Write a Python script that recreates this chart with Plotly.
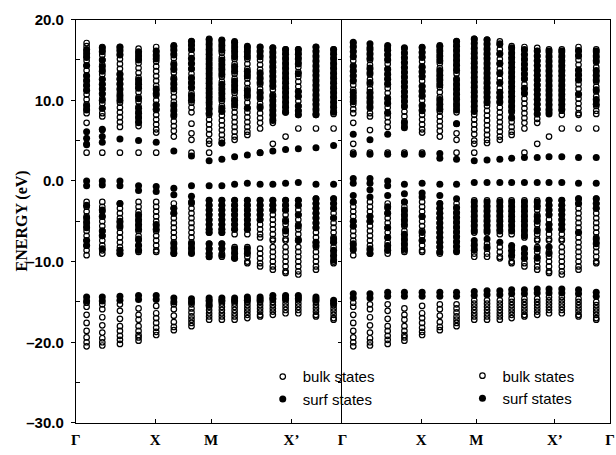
import plotly.graph_objects as go

# k-point columns (local path coordinate, same units as the tick positions)
K_LEFT = [11, 27, 45, 64, 82, 100, 118, 136, 149, 162, 175, 188, 201, 214, 227, 245, 263]
K_RIGHT = [11, 28, 46, 63, 81, 99, 116, 134, 147, 160, 172, 185, 198, 210, 223, 240, 258]

TICK_POS_LEFT = [0, 81, 138, 220]
TICK_TEXT_LEFT = ["Γ", "X", "M", "X’"]
TICK_POS_RIGHT = [0, 80, 136, 216, 272]
TICK_TEXT_RIGHT = ["Γ", "X", "M", "X’", "Γ"]

Y_TICKS = [-30, -20, -10, 0, 10, 20]
Y_TICK_TEXT = ["–30.0", "–20.0", "–10.0", "0.0", "10.0", "20.0"]
Y_MINOR = [-25, -15, -5, 5, 15]

# projected bulk states (eV), one list per k column (shared by both panels)
BULK = [
    [17.1, 16.7, 16.1, 15.5, 14.9, 14.3, 13.7, 13.1, 12.5, 11.9, 11.3, 10.7, 10.1, 9.5, 8.9, 8.4, 7.2, 4.6, 3.5,
     -2.6, -3.2, -3.8, -4.4, -5.0, -5.6, -6.2, -6.8, -7.4, -8.0, -8.6, -9.2,
     -15.1, -15.6, -16.6, -17.6, -18.6, -19.4, -20.0, -20.5],
    [16.6, 16.2, 15.6, 15.0, 14.4, 13.8, 13.2, 12.6, 12.0, 11.4, 10.8, 10.2, 9.6, 9.0, 8.4, 8.0, 6.3, 3.5,
     -2.6, -3.2, -3.8, -4.4, -5.0, -5.6, -6.2, -6.8, -7.4, -8.0, -8.6, -9.0,
     -15.3, -15.9, -16.9, -17.9, -18.8, -19.5, -20.0, -20.4],
    [16.6, 16.3, 15.7, 15.1, 14.5, 13.9, 13.3, 12.7, 12.1, 11.5, 10.9, 10.3, 9.7, 9.1, 8.5, 7.9, 7.3, 6.7, 3.5,
     -2.8, -3.4, -4.0, -4.6, -5.2, -5.8, -6.4, -7.0, -7.6, -8.2, -8.6, -9.0,
     -15.3, -16.1, -17.1, -18.0, -18.6, -19.2, -19.7, -20.2],
    [16.4, 15.8, 15.2, 14.6, 14.0, 13.4, 12.8, 12.2, 11.6, 11.0, 10.4, 9.8, 9.2, 8.6, 8.0, 7.4, 6.8, 3.5,
     -2.6, -3.2, -3.8, -4.4, -5.0, -5.6, -6.2, -6.8, -7.4, -8.0, -8.6, -8.8,
     -15.8, -16.6, -17.2, -18.0, -18.6, -19.1, -19.4, -19.8],
    [16.6, 16.0, 15.4, 14.8, 14.2, 13.6, 13.0, 12.4, 11.8, 11.2, 10.6, 10.0, 9.4, 8.8, 8.2, 7.6, 7.0, 6.4, 6.0, 3.5,
     -2.6, -3.2, -3.8, -4.4, -5.0, -5.6, -6.2, -6.8, -7.4, -8.0, -8.6, -8.8,
     -15.5, -16.4, -17.0, -17.6, -18.2, -18.7, -19.1],
    [16.8, 16.4, 15.8, 15.2, 14.6, 14.0, 13.4, 12.8, 12.2, 11.6, 11.0, 10.4, 9.8, 9.2, 8.6, 8.0, 7.4, 6.8, 6.2, 5.5,
     -2.8, -3.4, -4.0, -4.6, -5.2, -5.8, -6.4, -7.0, -7.6, -8.2, -8.8, -9.0,
     -15.3, -15.9, -16.7, -17.5, -18.1, -18.5],
    [17.3, 16.9, 16.3, 15.7, 15.1, 14.5, 13.9, 13.3, 12.7, 12.1, 11.5, 10.9, 10.3, 9.7, 9.1, 8.5, 7.1, 5.9, 5.1, 3.5,
     -2.8, -3.4, -4.0, -4.6, -5.2, -5.8, -6.4, -7.0, -7.6, -8.2, -8.8,
     -15.3, -15.8, -16.3, -16.8, -17.2, -17.6, -18.0],
    [17.6, 17.2, 16.6, 16.0, 15.4, 14.8, 14.2, 13.6, 13.0, 12.4, 11.8, 11.2, 10.6, 10.0, 9.4, 8.8, 8.2, 7.6, 7.0,
     6.4, 5.8, 5.0, 4.6, 3.5,
     -2.4, -3.0, -3.6, -4.2, -4.8, -5.4, -6.0, -6.4, -7.8, -8.4, -9.0, -9.4,
     -14.8, -15.2, -15.6, -16.0, -16.4, -16.8, -17.2],
    [17.5, 17.1, 16.5, 15.9, 15.3, 14.7, 14.1, 13.5, 12.9, 12.3, 11.7, 11.1, 10.5, 9.9, 9.3, 8.7, 8.1, 7.5, 6.9,
     6.3, 5.7, 5.1, 4.7,
     -2.4, -3.0, -3.6, -4.2, -4.8, -5.4, -6.0, -6.4, -7.8, -8.4, -9.0, -9.4,
     -14.8, -15.2, -15.6, -16.0, -16.4, -16.8, -17.2],
    [17.3, 16.9, 16.3, 15.7, 15.1, 14.5, 13.9, 13.3, 12.7, 12.1, 11.5, 10.9, 10.3, 9.7, 9.1, 8.5, 7.9, 7.3, 6.7,
     6.1, 5.5, 5.1,
     -2.4, -3.0, -3.6, -4.2, -4.8, -5.4, -6.0, -6.6, -8.2, -8.8, -9.4, -9.6,
     -14.8, -15.2, -15.6, -16.0, -16.4, -16.8, -17.2],
    [16.7, 16.3, 15.7, 15.1, 14.5, 13.9, 13.3, 12.7, 12.1, 11.5, 10.9, 10.3, 9.7, 9.1, 8.5, 7.9, 7.3, 6.7, 6.1, 5.7,
     -2.4, -3.0, -3.6, -4.2, -4.8, -5.4, -6.0, -6.6, -8.2, -8.8, -9.4, -10.0, -10.2,
     -14.6, -15.0, -15.4, -15.8, -16.2, -16.6, -17.0],
    [16.6, 16.2, 15.6, 15.0, 14.4, 13.8, 13.2, 12.6, 12.0, 11.4, 10.8, 10.2, 9.6, 9.0, 8.4, 7.8, 7.2, 6.5, 3.5,
     -2.4, -3.0, -3.6, -4.2, -4.8, -5.4, -6.0, -6.6, -7.0, -8.4, -9.0, -9.6, -10.2, -10.6,
     -14.6, -15.0, -15.4, -15.8, -16.2, -16.6, -16.8],
    [16.5, 16.1, 15.5, 14.9, 14.3, 13.7, 13.1, 12.5, 11.9, 11.3, 10.7, 10.1, 9.5, 8.9, 8.3, 7.7, 7.2, 4.6,
     -2.4, -3.0, -3.6, -4.2, -4.8, -5.4, -6.0, -6.6, -7.2, -7.4, -8.2, -8.8, -9.4, -10.0, -10.6, -11.0,
     -14.6, -15.0, -15.4, -15.8, -16.2, -16.6],
    [16.3, 15.9, 15.3, 14.7, 14.1, 13.5, 12.9, 12.3, 11.7, 11.1, 10.5, 9.9, 9.3, 8.7, 8.5, 5.5,
     -2.4, -3.0, -3.6, -4.2, -4.8, -5.4, -6.0, -6.6, -7.2, -7.4, -8.2, -8.8, -9.4, -10.0, -10.6, -11.2, -11.4,
     -14.4, -14.8, -15.2, -15.6, -16.0, -16.4],
    [16.3, 15.9, 15.3, 14.7, 14.1, 13.5, 12.9, 12.3, 11.7, 11.1, 10.5, 9.9, 9.3, 8.7, 8.2, 6.5,
     -2.4, -3.0, -3.6, -4.2, -4.8, -5.4, -6.0, -6.6, -7.2, -7.4, -8.2, -8.8, -9.4, -10.0, -10.6, -11.2, -11.6,
     -14.4, -14.8, -15.2, -15.6, -16.0, -16.4],
    [16.6, 16.2, 15.6, 15.0, 14.4, 13.8, 13.2, 12.6, 12.0, 11.4, 10.8, 10.2, 9.6, 9.0, 8.4, 8.2, 6.5,
     -2.2, -2.8, -3.4, -4.0, -4.6, -5.2, -5.8, -6.4, -7.0, -7.6, -8.2, -8.8, -9.4, -10.0, -10.6, -11.0,
     -14.6, -15.0, -15.4, -15.8, -16.2, -16.6, -16.8],
    [16.3, 15.9, 15.3, 14.7, 14.1, 13.5, 12.9, 12.3, 11.7, 11.1, 10.5, 9.9, 9.3, 8.7, 8.3, 6.5,
     -2.2, -2.8, -3.4, -4.0, -4.6, -5.2, -5.8, -6.4, -7.0, -7.6, -8.2, -8.8, -9.4, -10.0, -10.2,
     -15.0, -15.4, -15.8, -16.2, -16.6, -17.0, -17.2],
]

# surface states, left panel
SURF_LEFT = [
    [16.3, 15.8, 15.3, 14.3, 13.0, 12.4, 11.8, 11.2, 9.3, 8.8, 6.1, 5.3, 4.5,
     0.0, -0.6, -3.0, -4.6, -5.2, -5.8, -7.4, -8.0, -14.4, -14.9],
    [16.5, 16.0, 15.0, 14.2, 13.6, 12.6, 12.0, 11.4, 10.8, 10.0, 9.0, 6.4, 5.5, 4.8,
     0.0, -0.5, -3.6, -4.4, -6.2, -6.8, -8.4, -14.4, -14.9],
    [16.6, 16.1, 15.6, 13.2, 12.6, 12.0, 11.3, 10.6, 10.0, 5.2,
     0.0, -0.6, -2.8, -5.0, -5.6, -8.6, -9.0, -14.3, -14.8],
    [16.0, 15.5, 15.0, 12.5, 12.0, 11.5, 10.2, 9.0, 8.4, 7.8, 7.2, 5.0,
     -0.6, -1.2, -4.2, -4.8, -5.4, -6.0, -7.2, -8.0, -8.6, -14.2, -14.7],
    [16.1, 15.6, 15.1, 11.4, 10.8, 9.4, 8.9, 4.8,
     -0.7, -1.3, -5.4, -6.0, -14.2, -14.7],
    [16.7, 16.2, 15.6, 14.4, 13.8, 12.6, 12.0, 11.4, 9.4, 8.8, 8.2, 3.7,
     -0.9, -1.7, -3.4, -4.0, -7.8, -8.4, -9.0, -14.5, -15.0],
    [17.3, 16.8, 16.3, 15.2, 14.6, 13.9, 12.8, 12.2, 11.6, 10.6, 10.0, 3.1,
     -0.6, -1.9, -2.6, -7.8, -8.4, -9.0, -14.6, -15.0],
    [17.5, 16.9, 16.3, 15.7, 15.1, 14.5, 13.9, 13.3, 12.7, 12.1, 11.5, 10.9, 10.3, 9.7, 9.0, 8.4, 2.5,
     -0.6, -2.4, -3.0, -3.6, -4.2, -4.8, -5.4, -6.0, -6.4, -7.8, -8.4, -9.0, -9.4, -14.5, -14.9, -15.4],
    [17.4, 16.8, 16.2, 15.0, 14.4, 13.8, 13.2, 12.0, 11.4, 10.8, 10.2, 9.0, 8.6, 4.7, 2.7,
     -0.6, -2.4, -3.0, -3.6, -4.2, -4.8, -5.4, -6.0, -6.4, -7.8, -8.4, -9.2, -14.5, -14.9],
    [17.2, 16.6, 16.0, 15.4, 14.2, 13.6, 12.4, 11.8, 11.2, 10.0, 9.4, 3.0,
     -0.4, -2.4, -3.0, -3.6, -4.2, -4.8, -5.4, -6.0, -8.4, -9.0, -9.6, -14.5, -14.9],
    [16.6, 16.0, 15.4, 13.6, 13.0, 11.2, 10.6, 9.0, 3.2,
     -0.3, -2.4, -3.0, -3.6, -4.2, -4.8, -5.4, -6.0, -8.4, -9.0, -14.4, -14.8],
    [16.6, 16.0, 15.4, 13.4, 12.8, 12.2, 11.0, 10.4, 9.2, 3.5,
     -0.4, -2.4, -3.0, -3.6, -4.2, -4.8, -14.4, -14.8],
    [16.5, 15.9, 15.3, 14.7, 14.1, 13.5, 12.9, 12.3, 11.7, 10.5, 9.9, 9.3, 8.7, 8.1, 7.5, 3.7,
     -0.4, -2.4, -3.0, -3.6, -14.2, -14.6],
    [16.3, 15.7, 15.1, 14.5, 13.9, 13.3, 12.7, 12.1, 11.5, 10.9, 10.3, 9.7, 9.1, 8.5, 3.9,
     -0.3, -2.4, -3.0, -3.6, -5.0, -6.2, -14.2, -14.6],
    [16.3, 15.7, 15.1, 14.5, 13.3, 11.1, 10.5, 9.3, 8.7, 8.2, 4.0,
     -0.2, -2.4, -3.0, -4.2, -5.6, -7.4, -14.2, -14.6],
    [16.6, 16.0, 15.4, 14.8, 14.2, 13.6, 13.0, 12.4, 11.8, 11.2, 10.6, 10.0, 9.4, 8.8, 8.2, 4.1,
     -0.4, -2.2, -2.8, -3.4, -4.0, -4.6, -5.2, -5.8, -7.6, -8.0, -14.4, -14.8],
    [16.3, 15.7, 15.1, 14.5, 13.9, 13.3, 12.7, 12.1, 11.5, 10.9, 10.3, 9.7, 9.1, 8.5, 4.4,
     -0.4, -2.2, -2.8, -3.4, -4.6, -7.2, -7.6, -8.6, -9.2, -9.8, -14.8, -15.2],
]

# surface states, right panel
SURF_RIGHT = [
    [17.2, 16.6, 16.0, 15.4, 14.2, 13.6, 13.0, 12.4, 11.0, 10.4, 9.8, 5.8, 3.3,
     0.3, -0.3, -1.8, -2.6, -5.0, -5.6, -7.8, -8.4, -14.0, -14.5],
    [17.0, 16.4, 15.8, 15.2, 14.0, 13.4, 12.2, 11.0, 10.4, 9.8, 9.2, 5.1, 3.3,
     0.3, -0.3, -1.1, -2.0, -4.4, -5.0, -8.4, -9.0, -14.0, -14.5],
    [16.8, 16.2, 15.6, 15.0, 13.8, 13.2, 12.6, 12.0, 10.2, 9.6, 8.4, 5.8, 3.3,
     0.0, -0.6, -1.8, -3.2, -4.0, -5.8, -7.0, -8.0, -8.6, -13.8, -14.3],
    [16.5, 15.9, 15.3, 14.7, 14.1, 13.5, 12.9, 12.3, 11.7, 11.1, 10.5, 9.9, 9.3, 7.2, 6.6, 3.3,
     -0.4, -1.6, -2.6, -3.6, -4.2, -4.8, -5.4, -6.6, -7.2, -7.8, -8.4, -13.8, -14.3],
    [16.5, 15.9, 15.3, 14.1, 13.5, 12.9, 11.7, 11.1, 10.5, 9.3, 8.7, 3.3,
     -0.3, -1.5, -2.0, -4.4, -6.4, -7.4, -13.8, -14.3],
    [16.7, 16.1, 15.5, 14.9, 13.7, 13.1, 12.5, 11.9, 10.1, 9.5, 8.9, 3.4, 2.8,
     -0.4, -1.8, -2.8, -3.4, -4.0, -4.6, -5.2, -5.8, -6.4, -7.0, -7.6, -8.2, -8.8, -13.8, -14.3],
    [17.3, 16.7, 16.1, 15.5, 14.9, 14.3, 13.7, 12.5, 11.9, 11.3, 10.7, 10.1, 9.4, 8.8, 7.1, 2.7,
     -0.4, -2.2, -3.3, -3.9, -4.5, -5.1, -5.7, -6.3, -6.9, -7.5, -8.1, -8.7, -13.8, -14.3],
    [17.6, 17.0, 16.4, 15.8, 15.2, 14.6, 14.0, 13.4, 12.8, 12.2, 11.6, 11.0, 10.4, 9.8, 9.2, 8.6, 2.5,
     -0.2, -2.6, -3.2, -3.8, -4.4, -5.0, -5.6, -6.2, -7.4, -8.0, -8.6, -13.7, -14.2],
    [17.5, 16.9, 16.3, 15.7, 15.1, 14.5, 13.9, 13.3, 12.7, 12.1, 11.5, 10.9, 10.3, 9.7, 2.6,
     -0.2, -2.6, -3.2, -3.8, -4.4, -5.0, -5.6, -6.2, -7.2, -8.2, -13.6, -14.1],
    [17.0, 15.8, 14.6, 13.4, 12.2, 11.0, 10.4, 9.8, 2.7,
     -0.2, -2.6, -3.2, -3.8, -4.4, -5.0, -5.6, -6.2, -7.6, -13.6, -14.1],
    [16.5, 15.9, 15.3, 14.7, 14.1, 13.5, 12.9, 12.3, 11.7, 11.1, 10.5, 9.9, 9.3, 8.7, 7.8, 2.8,
     -0.2, -2.6, -3.2, -3.8, -4.4, -5.0, -5.6, -6.2, -8.0, -8.6, -9.2, -13.5, -14.0],
    [16.3, 15.7, 15.1, 14.5, 13.9, 13.3, 12.7, 11.5, 10.9, 2.9,
     -0.2, -2.6, -3.2, -3.8, -4.4, -5.0, -5.6, -6.2, -6.8, -8.4, -9.0, -9.6, -13.5, -14.0],
    [16.1, 15.5, 14.9, 14.3, 13.7, 13.1, 12.5, 11.9, 11.3, 10.7, 10.1, 9.5, 8.9, 8.3, 2.9,
     -0.2, -2.6, -3.2, -4.4, -5.0, -6.2, -8.4, -9.6, -13.4, -13.9],
    [16.1, 15.5, 14.9, 14.3, 13.7, 13.1, 12.5, 11.9, 11.3, 10.7, 10.1, 9.5, 8.9, 8.3, 3.0,
     -0.2, -2.4, -3.0, -3.6, -4.2, -5.4, -6.0, -8.2, -9.0, -13.4, -13.9],
    [16.1, 15.5, 14.9, 14.3, 13.7, 13.1, 12.5, 11.9, 11.3, 10.7, 10.1, 9.5, 8.9, 3.0,
     -0.2, -2.4, -3.0, -3.6, -4.2, -4.8, -5.4, -6.0, -13.4, -13.9],
    [16.1, 15.5, 13.7, 13.1, 12.5, 10.7, 2.9,
     -0.3, -2.2, -2.8, -6.4, -13.5, -14.0],
    [16.1, 15.5, 14.9, 13.7, 13.1, 12.5, 11.3, 10.1, 9.5, 2.9,
     -0.3, -2.2, -2.8, -3.4, -7.2, -7.8, -13.8, -14.3],
]


def flatten(kpos, columns):
    xs, ys = [], []
    for k, col in zip(kpos, columns):
        for e in col:
            xs.append(k)
            ys.append(e)
    return xs, ys


OPEN = dict(symbol="circle-open", size=5.5, color="black", line=dict(width=1.2, color="black"))
FILLED = dict(symbol="circle", size=7, color="black", line=dict(width=0))

fig = go.Figure()
for kpos, surf, xa, ya, lg in [(K_LEFT, SURF_LEFT, "x", "y", "legend"),
                               (K_RIGHT, SURF_RIGHT, "x2", "y2", "legend2")]:
    bx, by = flatten(kpos, BULK)
    sx, sy = flatten(kpos, surf)
    fig.add_trace(go.Scatter(x=bx, y=by, mode="markers", marker=OPEN, name="bulk states",
                             xaxis=xa, yaxis=ya, legend=lg, hoverinfo="skip"))
    fig.add_trace(go.Scatter(x=sx, y=sy, mode="markers", marker=FILLED, name="surf states",
                             xaxis=xa, yaxis=ya, legend=lg, hoverinfo="skip"))

W, H = 616, 455
y_dom = [25 / H, 444 / H]
xfont = dict(family="Liberation Serif", size=15, color="black", weight="bold")
yfont = dict(family="Liberation Sans", size=15, color="black", weight="bold")
legfont = dict(family="Liberation Sans", size=15, color="black")
common_x = dict(range=[0, 272], showgrid=False, zeroline=False, showline=True, linecolor="black",
                linewidth=1, ticks="inside", ticklen=4, tickcolor="black", mirror="ticks",
                tickfont=xfont, ticklabelstandoff=3, ticklabeloverflow="allow", fixedrange=True)

fig.update_layout(
    width=W, height=H, autosize=False,
    margin=dict(l=0, r=0, t=0, b=0),
    paper_bgcolor="white", plot_bgcolor="white",
    xaxis=dict(domain=[72 / W, 343 / W], anchor="y", tickvals=TICK_POS_LEFT,
               ticktext=TICK_TEXT_LEFT, **common_x),
    xaxis2=dict(domain=[343 / W, 615 / W], anchor="y2", tickvals=TICK_POS_RIGHT,
                ticktext=TICK_TEXT_RIGHT, **common_x),
    yaxis=dict(domain=y_dom, anchor="x", range=[-30, 20], tickvals=Y_TICKS, ticktext=Y_TICK_TEXT,
               ticks="outside", ticklen=4, tickcolor="black", showline=True, linecolor="black",
               linewidth=1, showgrid=False, zeroline=False, tickfont=yfont, ticklabelstandoff=4,
               minor=dict(tickvals=Y_MINOR, ticks="inside", ticklen=4, tickcolor="black"),
               fixedrange=True),
    yaxis2=dict(domain=y_dom, anchor="x2", matches="y", range=[-30, 20],
                tickvals=[-25, -20, -15, -10, -5, 0, 5, 10, 15], ticks="outside", ticklen=3,
                tickcolor="black", showticklabels=False, showline=True, linecolor="black",
                linewidth=1, mirror=True, showgrid=False, zeroline=False, fixedrange=True),
    legend=dict(x=262 / W, y=(H - 365) / H, xanchor="left", yanchor="top",
                bgcolor="rgba(0,0,0,0)", font=legfont, itemwidth=30, tracegroupgap=0),
    legend2=dict(x=465 / W, y=(H - 364) / H, xanchor="left", yanchor="top",
                 bgcolor="rgba(0,0,0,0)", font=legfont, itemwidth=30, tracegroupgap=0),
    annotations=[dict(text="ENERGY (eV)", textangle=-90, xref="paper", yref="paper",
                      x=17 / W, y=(H - 220) / H, showarrow=False, xanchor="center", yanchor="middle",
                      font=dict(family="Liberation Serif", size=16, color="black", weight="bold"))],
)

fig.write_html("out.html")
